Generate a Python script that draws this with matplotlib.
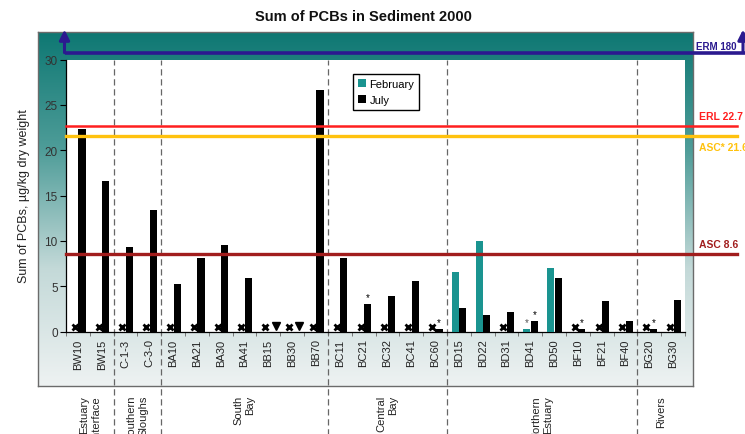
import numpy as np
import matplotlib
matplotlib.use("Agg")
import matplotlib.pyplot as plt
from matplotlib import transforms
from matplotlib.colors import LinearSegmentedColormap

plt.rcParams['font.family'] = ['Liberation Sans', 'DejaVu Sans']

# --- data -------------------------------------------------------------
stations = ["BW10", "BW15", "C-1-3", "C-3-0", "BA10", "BA21", "BA30", "BA41",
            "BB15", "BB30", "BB70", "BC11", "BC21", "BC32", "BC41", "BC60",
            "BD15", "BD22", "BD31", "BD41", "BD50", "BF10", "BF21", "BF40",
            "BG20", "BG30"]
nan = np.nan
# February: NaN = not sampled (drawn as x)
february = [nan, nan, nan, nan, nan, nan, nan, nan,
            nan, nan, nan, nan, nan, nan, nan, nan,
            6.6, 10.0, nan, 0.3, 7.0, nan, nan, nan,
            nan, nan]
# July: NaN = below detection limit (drawn as triangle)
july = [22.3, 16.6, 9.3, 13.4, 5.2, 8.1, 9.5, 5.9,
        nan, nan, 26.6, 8.1, 3.0, 3.9, 5.6, 0.3,
        2.6, 1.8, 2.1, 1.2, 5.9, 0.3, 3.4, 1.2,
        0.3, 3.5]
# asterisk flags (estimated values)
feb_flag = ["BD41"]
jul_flag = ["BC21", "BC60", "BD41", "BF10", "BG20"]

groups = ["Estuary\nInterface", "Southern\nSloughs", "South\nBay",
          "Central\nBay", "Northern\nEstuary", "Rivers"]
group_sizes = [2, 2, 7, 5, 8, 2]

guidelines = [("ERL", 22.7, "#ff1f1f", "above", 1.8),
              ("ASC*", 21.6, "#ffc20e", "below", 2.4),
              ("ASC", 8.6, "#a11d1d", "above", 2.4)]
erm_value = 180

# --- figure -----------------------------------------------------------
W, H = 745, 435
fig = plt.figure(figsize=(W / 100, H / 100), dpi=100)
fig.patch.set_facecolor("white")

def fx(px):
    return px / W

def fy(py):
    return 1 - py / H

# gradient panel behind the chart
bg = fig.add_axes([fx(38), fy(387), fx(693) - fx(38), fy(33) - fy(387)], zorder=0)
cmap = LinearSegmentedColormap.from_list(
    "panel", ["#0e7873", "#4f9d99", "#c3d9d8", "#eef2f2"], N=256)
grad = np.linspace(0, 1, 256).reshape(-1, 1)
bg.imshow(grad, aspect="auto", cmap=cmap, extent=[0, 1, 0, 1], origin="upper")
bg.set_xticks([])
bg.set_yticks([])
for s in bg.spines.values():
    s.set_edgecolor("#6b6b6b")
    s.set_linewidth(1.0)

ax = fig.add_axes([fx(66), fy(332.5), fx(685) - fx(66), fy(60.5) - fy(332.5)], zorder=2)
ax.set_facecolor("white")

x = np.arange(len(stations))
feb = np.array(february, dtype=float)
jul = np.array(july, dtype=float)
teal = "#1a9490"
bw = 0.3

fm = ~np.isnan(feb)
jm = ~np.isnan(jul)
ax.bar(x[fm] - 0.14, feb[fm], bw, color=teal, label="February", zorder=3)
ax.bar(x[jm] + 0.17, jul[jm], bw, color="black", label="July", zorder=3)

# not sampled / below detection markers
ax.plot(x[~fm] - 0.13, np.full((~fm).sum(), 0.45), linestyle="none",
        marker="x", ms=4.5, mew=2.0, color="black", zorder=4, clip_on=False)
ax.plot(x[~jm] + 0.3, np.full((~jm).sum(), 0.6), linestyle="none",
        marker="v", ms=5.5, color="black", zorder=4, clip_on=False)

for name in feb_flag:
    i = stations.index(name)
    ax.text(i - 0.14, feb[i] + 0.2, "*", ha="center", va="bottom",
            fontsize=7, color="#555555", zorder=4)
for name in jul_flag:
    i = stations.index(name)
    ax.text(i + 0.17, jul[i] + 0.2, "*", ha="center", va="bottom",
            fontsize=7, color="black", zorder=4)

ax.set_xlim(-0.5, len(stations) - 0.5)
ax.set_ylim(0, 30)
ax.set_yticks(np.arange(0, 31, 5))
ax.tick_params(axis="y", direction="out", length=4, width=0.8,
               labelsize=8.5, labelcolor="#333333", pad=2)
ax.set_xticks(np.arange(-0.5, len(stations), 1))
ax.set_xticklabels([])
ax.tick_params(axis="x", which="major", direction="out", length=3,
               width=0.6, color="#666666")
ax.set_xticks(x, minor=True)
ax.set_xticklabels(stations, minor=True, rotation=90, fontsize=8,
                   color="#222222")
ax.tick_params(axis="x", which="minor", length=0, pad=5)
for side in ("top", "right"):
    ax.spines[side].set_visible(False)
for side in ("left", "bottom"):
    ax.spines[side].set_linewidth(0.9)

# group separators and labels
bounds = np.cumsum(group_sizes)
starts = np.concatenate([[0], bounds[:-1]])
for b in bounds[:-1]:
    ax.axvline(b - 0.5, ymin=-0.4, ymax=1.0, clip_on=False, color="#666666",
               lw=0.9, linestyle=(0, (5, 3)), zorder=1)
gtrans = transforms.blended_transform_factory(ax.transData, fig.transFigure)
for g, s0, n in zip(groups, starts, group_sizes):
    ax.text(s0 + (n - 1) / 2, fy(396), g, transform=gtrans, rotation=90,
            ha="center", va="top", multialignment="right", fontsize=8,
            color="#222222", clip_on=False)

# sediment quality guideline lines
ltrans = transforms.blended_transform_factory(fig.transFigure, ax.transData)
for name, val, col, pos, lw in guidelines:
    ax.plot([fx(66), fx(737)], [val, val], transform=ltrans, color=col,
            lw=lw, clip_on=False, zorder=5)
    off = 0.5 if pos == "above" else -0.75
    ax.text(fx(699), val + off, f"{name} {val:g}", transform=ltrans,
            color=col, fontsize=7.5, fontweight="bold",
            va="bottom" if pos == "above" else "top", ha="left",
            clip_on=False, zorder=6)

# ERM is far above the axis range: shown as an off-scale line with arrows
etrans = transforms.blended_transform_factory(fig.transFigure, ax.transAxes)
ey = 1.025
navy = "#2b1a8f"
ax.plot([fx(64.5), fx(745)], [ey, ey], transform=etrans, color=navy, lw=2.6,
        clip_on=False, zorder=5, solid_capstyle="butt")
for xa in (fx(64.5), fx(743)):
    ax.annotate("", xy=(xa, 1.11), xytext=(xa, ey), xycoords=etrans,
                textcoords=etrans,
                arrowprops=dict(arrowstyle="-|>,head_length=0.6,head_width=0.3",
                                color=navy, lw=2.2, shrinkA=0, shrinkB=0),
                zorder=6, annotation_clip=False)
ax.text(fx(696), ey + 0.005, f"ERM {erm_value}", transform=etrans, color=navy,
        fontsize=7, fontweight="bold", va="bottom", ha="left", clip_on=False,
        zorder=6)

ax.legend(loc="upper left", bbox_to_anchor=(0.455, 0.968), fontsize=8,
          frameon=True, fancybox=False, edgecolor="black", framealpha=1,
          handlelength=0.7, handleheight=0.7, handletextpad=0.3,
          borderpad=0.45, labelspacing=0.55)

fig.text(fx(24), 0.5 * (fy(60.5) + fy(332.5)), "Sum of PCBs, µg/kg dry weight",
         rotation=90, ha="center", va="center", fontsize=9, color="#222222")
fig.text(fx(363), fy(17), "Sum of PCBs in Sediment 2000", ha="center",
         va="center", fontsize=10.5, fontweight="bold", color="#111111")

fig.savefig("out.png", dpi=100)
